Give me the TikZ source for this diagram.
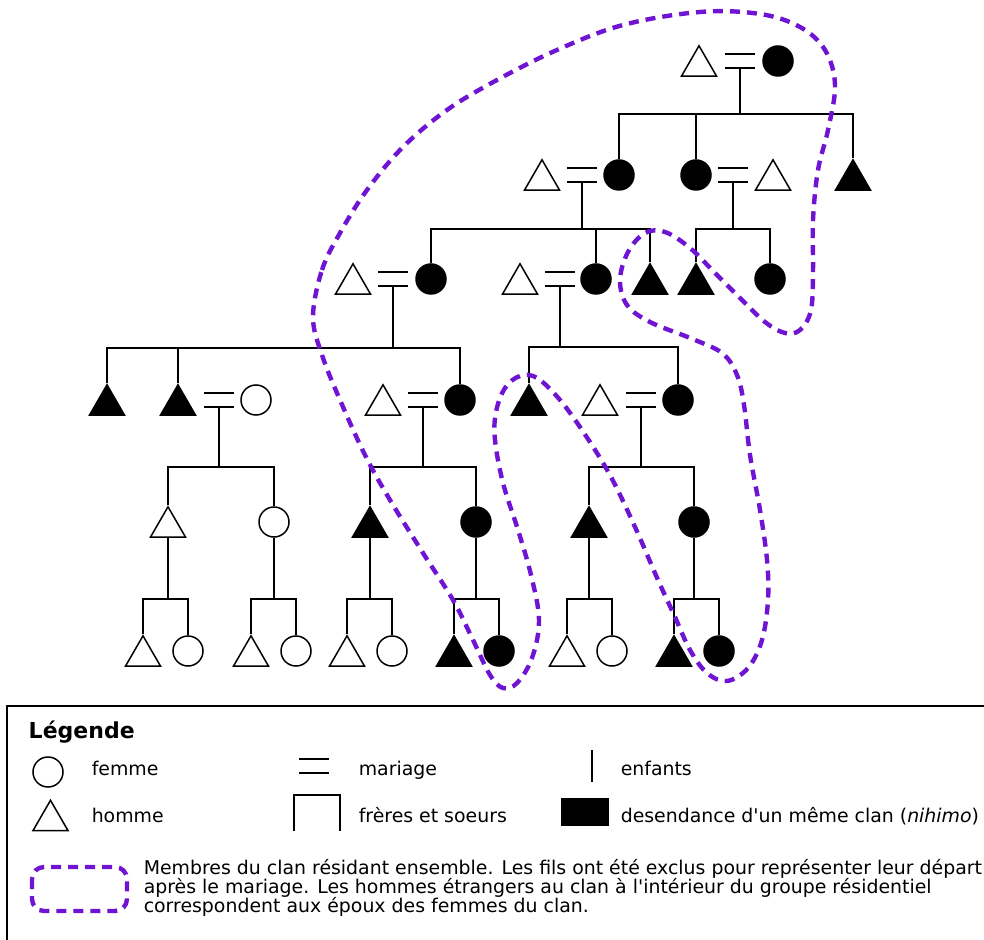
\documentclass[tikz,border=0pt]{standalone}
\usepackage{fontspec}
\setmainfont{DejaVu Sans}[Ligatures=TeXOff]
\usetikzlibrary{shapes.geometric}

\definecolor{clanviolet}{RGB}{110,20,210}

\tikzset{
    homme/.style={regular polygon, regular polygon sides=3, draw, inner sep=0pt,
        minimum size=20.2pt, yshift=-2.5pt},
    femme/.style={circle, draw, inner sep=0pt, minimum size=15pt},
    clan/.style={fill=black},
    residence/.style={draw=clanviolet, line width=2.2pt, dash pattern=on 5pt off 3.5pt},
    legende/.style={anchor=base west, inner sep=0pt}
}

% Hilfsmakro: Heiratszeichen um einen Punkt
\newcommand{\mariage}[1]{%
    \draw[line width=1pt] ([shift={(-15,-7)}]#1) -- ([shift={(15,-7)}]#1)
    ([shift={(-15,7)}]#1) -- ([shift={(15,7)}]#1);}

\begin{document}
\begin{tikzpicture}[x=0.5pt, y=-0.5pt, line width=0.75pt,
        font=\fontsize{9.45}{9.5}\selectfont]

    \useasboundingbox (0,0) rectangle (984,940);

    % Generation 0
    \node[homme] (h0) at (699,61) {};
    \node[femme, clan] (f0) at (778,61) {};
    \coordinate (m0) at (740,61);

    % Generation 1
    \node[homme] (h1a) at (542,175) {};
    \node[femme, clan] (f1a) at (619,175) {};
    \coordinate (m1a) at (582,175);
    \node[femme, clan] (f1b) at (696,175) {};
    \node[homme] (h1b) at (773,175) {};
    \coordinate (m1b) at (733,175);
    \node[homme, clan] (s1) at (853,175) {};

    % Generation 2
    \node[homme] (h2a) at (353,279) {};
    \node[femme, clan] (f2a) at (431,279) {};
    \coordinate (m2a) at (393,279);
    \node[homme] (h2b) at (520,279) {};
    \node[femme, clan] (f2b) at (596,279) {};
    \coordinate (m2b) at (560,279);
    \node[homme, clan] (s2a) at (650,279) {};
    \node[homme, clan] (s2b) at (696,279) {};
    \node[femme, clan] (s2c) at (770,279) {};

    % Generation 3
    \node[homme, clan] (s3a) at (107,400) {};
    \node[homme, clan] (h3a) at (178,400) {};
    \node[femme] (f3a) at (256,400) {};
    \coordinate (m3a) at (219,400);
    \node[homme] (h3b) at (383,400) {};
    \node[femme, clan] (f3b) at (460,400) {};
    \coordinate (m3b) at (423,400);
    \node[homme, clan] (s3b) at (529,400) {};
    \node[homme] (h3c) at (600,400) {};
    \node[femme, clan] (f3c) at (678,400) {};
    \coordinate (m3c) at (641,400);

    % Generation 4
    \node[homme] (g4a) at (168,522) {};
    \node[femme] (g4b) at (274,522) {};
    \node[homme, clan] (g4c) at (370,522) {};
    \node[femme, clan] (g4d) at (476,522) {};
    \node[homme, clan] (g4e) at (589,522) {};
    \node[femme, clan] (g4f) at (694,522) {};

    % Generation 5 (je ein Bruder und eine Schwester)
    \foreach \n/\xh/\xf/\st in {a/143/188/, b/251/296/, c/347/392/,
            d/454/499/clan, e/567/612/, f/674/719/clan} {
            \node[homme, \st] (g5h\n) at (\xh,651) {};
            \node[femme, \st] (g5f\n) at (\xf,651) {};
        }

    % Heiraten
    \foreach \m in {m0, m1a, m1b, m2a, m2b, m3a, m3b, m3c} {
            \mariage{\m}
        }

    % Kinder: Paar / Hoehe der Geschwisterlinie / erstes / letztes Kind
    \foreach \p/\yb/\a/\b in {m0/114/f1a/s1, m1a/229/f2a/s2a, m1b/229/s2b/s2c,
            m2a/348/s3a/f3b, m2b/347/s3b/f3c, m3a/467/g4a/g4b,
            m3b/467/g4c/g4d, m3c/467/g4e/g4f} {
            \draw ([shift={(0,7)}]\p) -- (\p |- 0,\yb);
            \draw (\a.north) |- (\p |- 0,\yb) -| (\b.north);
        }
    % mittlere Kinder
    \foreach \c/\yb in {f1b/114, f2b/229, h3a/348} {
            \draw (\c.north) -- (\c |- 0,\yb);
        }
    % Kinder der Generation 4
    \foreach \n in {a,b,c,d,e,f} {
            \draw (g4\n.south) -- (g4\n |- 0,599);
            \draw (g5h\n.north) |- (g4\n |- 0,599) -| (g5f\n.north);
        }

    % Wohngruppe des Clans (gestrichelt)
    \draw[residence] plot[smooth cycle, tension=0.6] coordinates {
            (313,317) (322,270) (340,233) (367,190) (403,147) (447,110)
            (497,80) (557,50) (623,25) (700,12) (760,14) (800,27) (825,50)
            (835,85) (828,130) (818,170) (813,220) (813,270) (811,310)
            (800,330) (785,333) (765,322) (740,298) (715,273) (690,248)
            (665,232) (645,233) (628,252) (620,280) (627,305) (650,322)
            (690,338) (722,353) (737,375) (744,405) (750,455) (760,510)
            (767,560) (768,600) (762,640) (748,668) (727,681) (707,673)
            (690,650) (675,617) (658,580) (635,527) (611,477) (586,436)
            (560,400) (537,378) (520,376) (505,388) (496,412) (495,440)
            (503,483) (518,530) (531,575) (539,620) (532,658) (517,683)
            (503,688) (490,675) (473,640) (453,600) (423,553) (390,500)
            (365,455) (340,400) (322,355)};

    % Legende
    \draw (7,706) rectangle (1000,960);
    \node[legende, font=\bfseries\fontsize{11}{12}\selectfont] (titre) at (28,738) {Légende};

    \node[femme] (lfemme) at (48,772) {};
    \node[legende] (tfemme) at (91,775) {femme};
    \node[homme] (lhomme) at (50.5,815.5) {};
    \node[legende] (thomme) at (91,822) {homme};

    \coordinate (lmariage) at (314,766);
    \mariage{lmariage}
    \node[legende] (tmariage) at (358,775) {mariage};
    \draw (294,831) -- (294,795) -- (340,795) -- (340,831);
    \node[legende] (tfreres) at (358,822) {frères et soeurs};

    \draw (592,750) -- (592,782);
    \node[legende] (tenfants) at (620,775) {enfants};
    \fill (561,798) rectangle (609,826);
    \node[legende] (tclan) at (620,822) {desendance d'un même clan (\textit{nihimo})};

    \draw[residence, rounded corners=6pt] (32,867) rectangle (127,911);
    \node[legende] (tresid1) at (143,874) {Membres du clan résidant ensemble. Les fils ont été exclus pour représenter leur départ};
    \node[legende] (tresid2) at (143,893) {après le mariage. Les hommes étrangers au clan à l'intérieur du groupe résidentiel};
    \node[legende] (tresid3) at (143,912) {correspondent aux époux des femmes du clan.};

\end{tikzpicture}
\end{document}
